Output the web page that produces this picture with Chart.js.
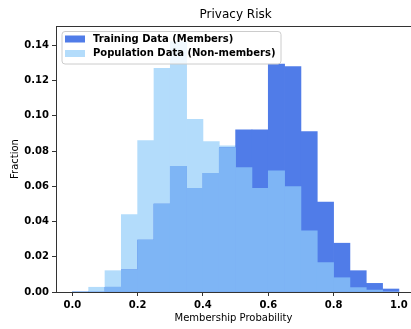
<!DOCTYPE html>
<html>
<head>
<meta charset="utf-8">
<script src="https://cdn.jsdelivr.net/npm/chart.js@4/dist/chart.umd.min.js"></script>
<style>
body { margin: 0; background: #fff; }
#wrap { width: 411px; height: 329px; }
</style>
</head>
<body>
<div id="wrap"><canvas id="riskChart" width="411" height="329"></canvas></div>
<script>
// histogram bins (width 0.05), given by their centres
const binCenters = [0.025, 0.075, 0.125, 0.175, 0.225, 0.275, 0.325, 0.375, 0.425, 0.475,
                    0.525, 0.575, 0.625, 0.675, 0.725, 0.775, 0.825, 0.875, 0.925, 0.975];
const trainingFraction = [0, 0, 0.0027, 0.0126, 0.0295, 0.0499, 0.0714, 0.0589, 0.0674, 0.0820,
                          0.0920, 0.0920, 0.1294, 0.1280, 0.0910, 0.0510, 0.0277, 0.0121, 0.0049, 0.0017];
const populationFraction = [0, 0.0027, 0.0121, 0.0440, 0.0860, 0.1270, 0.1420, 0.0980, 0.0854, 0.0830,
                            0.0706, 0.0589, 0.0688, 0.0598, 0.0347, 0.0167, 0.0081, 0.0025, 0.0011, 0];
const xTicks = [0, 0.2, 0.4, 0.6, 0.8, 1.0];
const yTicks = [0, 0.02, 0.04, 0.06, 0.08, 0.10, 0.12, 0.14];
const seriesNames = ["Training Data (Members)", "Population Data (Non-members)"];

// opaque colours: the overlap is drawn as its own layer so bars join without seams
const trainingColor = "rgb(80,124,232)";
const populationColor = "rgb(179,220,251)";
const overlapColor = "rgb(126,181,245)";
const axisColor = "#333";
const tickFont = { family: "DejaVu Sans", size: 10, weight: "bold" };
const labelFont = { family: "DejaVu Sans", size: 10 };

function toPoints(values) {
    return binCenters.map((c, i) => ({ x: c, y: values[i] }));
}
const overlapFraction = trainingFraction.map((t, i) => Math.min(t, populationFraction[i]));

// title, top spine and the in-plot legend, like matplotlib draws them
const decorPlugin = {
    id: "decor",
    afterDraw(chart) {
        const ctx = chart.ctx;
        const area = chart.chartArea;
        const xs = chart.scales.x;
        ctx.save();
        ctx.strokeStyle = axisColor;
        ctx.lineWidth = 1;
        ctx.beginPath();
        ctx.moveTo(area.left, area.top + 0.5);
        ctx.lineTo(area.right, area.top + 0.5);
        ctx.stroke();

        ctx.fillStyle = "#000";
        ctx.font = "12px 'DejaVu Sans'";
        ctx.textAlign = "center";
        ctx.textBaseline = "middle";
        ctx.fillText("Privacy Risk", xs.getPixelForValue(0.5), 14.5);

        // legend box
        ctx.beginPath();
        ctx.roundRect(62, 31.5, 219, 32.5, 3);
        ctx.fillStyle = "rgba(255,255,255,0.8)";
        ctx.fill();
        ctx.strokeStyle = "#ccc";
        ctx.stroke();
        const colors = [trainingColor, populationColor];
        const rows = [39, 53.5];
        ctx.font = "bold 10px 'DejaVu Sans'";
        ctx.textAlign = "left";
        seriesNames.forEach((name, i) => {
            ctx.fillStyle = colors[i];
            ctx.fillRect(65, rows[i] - 3.5, 20, 7);
            ctx.fillStyle = "#000";
            ctx.fillText(name, 93, rows[i]);
        });
        ctx.restore();
    }
};

const ctx = document.getElementById("riskChart").getContext("2d");
new Chart(ctx, {
    type: "bar",
    data: {
        datasets: [
            {
                label: seriesNames[1],
                data: toPoints(populationFraction),
                backgroundColor: populationColor,
                borderWidth: 0,
                order: 3
            },
            {
                label: seriesNames[0],
                data: toPoints(trainingFraction),
                backgroundColor: trainingColor,
                borderWidth: 0,
                order: 2
            },
            {
                label: "overlap",
                data: toPoints(overlapFraction),
                backgroundColor: overlapColor,
                borderWidth: 0,
                order: 1
            }
        ]
    },
    options: {
        responsive: false,
        animation: false,
        grouped: false,
        barPercentage: 1,
        categoryPercentage: 1,
        layout: { padding: { top: 26, left: 0, right: 0, bottom: 0 } },
        plugins: {
            legend: { display: false },
            title: { display: false },
            tooltip: { enabled: false }
        },
        scales: {
            x: {
                type: "linear",
                offset: false,
                min: -0.05,
                max: 1.037,
                afterBuildTicks: (scale) => { scale.ticks = xTicks.map(v => ({ value: v })); },
                afterFit: (scale) => { scale.height = 37; },
                grid: { offset: false, drawOnChartArea: false, drawTicks: true, tickLength: 4, color: axisColor },
                border: { display: true, color: axisColor, width: 1 },
                ticks: {
                    font: tickFont,
                    color: "#000",
                    padding: 3,
                    maxRotation: 0,
                    callback: (v) => Number(v).toFixed(1)
                },
                title: {
                    display: true,
                    text: "Membership Probability",
                    font: labelFont,
                    color: "#000",
                    padding: { top: 5, bottom: 5 }
                }
            },
            y: {
                min: 0,
                max: 0.151,
                afterBuildTicks: (scale) => { scale.ticks = yTicks.map(v => ({ value: v })); },
                afterFit: (scale) => { scale.width = 56; },
                grid: { offset: false, drawOnChartArea: false, drawTicks: true, tickLength: 4, color: axisColor },
                border: { display: true, color: axisColor, width: 1 },
                ticks: {
                    font: tickFont,
                    color: "#000",
                    padding: 3,
                    callback: (v) => Number(v).toFixed(2)
                },
                title: {
                    display: true,
                    text: "Fraction",
                    font: labelFont,
                    color: "#000",
                    padding: { top: 9, bottom: 9 }
                }
            }
        }
    },
    plugins: [decorPlugin]
});
</script>
</body>
</html>
